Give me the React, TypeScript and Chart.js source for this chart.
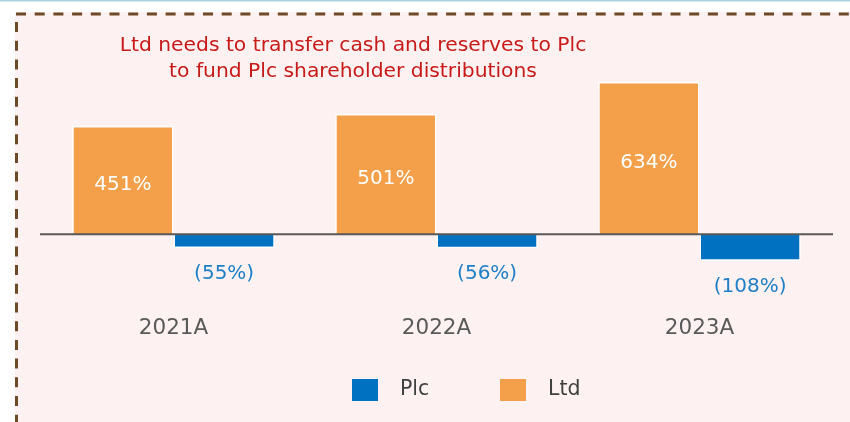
import React, { useEffect, useRef } from "react";
import { Chart, registerables } from "chart.js";

Chart.register(...registerables);

const categories = ["2021A", "2022A", "2023A"];
const ltdValues = [451, 501, 634];
const plcValues = [-55, -56, -108];
const titleLines = [
  "Ltd needs to transfer cash and reserves to Plc",
  "to fund Plc shareholder distributions",
];
const legendOrder = ["Plc", "Ltd"];

const FONT = "'DejaVu Sans', sans-serif";
const ORANGE = "#f4a04a";
const BLUE = "#0070c0";
const PINK = "#fef1f1";

const fmt = (v: number) => (v < 0 ? `(${Math.abs(v)}%)` : `${v}%`);

const framePlugin = {
  id: "frame",
  beforeDraw(chart: any) {
    const { ctx, width, height } = chart;
    ctx.save();
    ctx.fillStyle = "#ffffff";
    ctx.fillRect(0, 0, width, height);
    ctx.fillStyle = "#a7d3de";
    ctx.fillRect(0, 0, width, 1.5);
    ctx.fillStyle = PINK;
    ctx.fillRect(15, 12, width - 15, height - 12);
    ctx.strokeStyle = "#6e4a26";
    ctx.lineWidth = 3;
    ctx.setLineDash([10, 8.7]);
    ctx.beginPath();
    ctx.moveTo(16, 14);
    ctx.lineTo(width, 14);
    ctx.stroke();
    ctx.beginPath();
    ctx.moveTo(16.5, 22);
    ctx.lineTo(16.5, height);
    ctx.stroke();
    ctx.restore();
  },
};

const titlePlugin = {
  id: "customTitle",
  afterDraw(chart: any) {
    const { ctx } = chart;
    ctx.save();
    ctx.fillStyle = "#c91a1a";
    ctx.font = `20.3px ${FONT}`;
    ctx.textAlign = "center";
    ctx.textBaseline = "middle";
    ctx.fillText(titleLines[0], 353, 46);
    ctx.fillText(titleLines[1], 353, 72);
    ctx.restore();
  },
};

const labelPlugin = {
  id: "barLabels",
  afterDatasetsDraw(chart: any) {
    const { ctx, chartArea } = chart;
    const yScale = chart.scales.y;
    const zeroY = yScale.getPixelForValue(0) - 0.5;
    ctx.save();
    ctx.strokeStyle = "#595959";
    ctx.lineWidth = 2;
    ctx.beginPath();
    ctx.moveTo(chartArea.left - 2, zeroY);
    ctx.lineTo(chartArea.right + 2, zeroY);
    ctx.stroke();

    ctx.font = `20px ${FONT}`;
    ctx.textAlign = "center";
    ctx.textBaseline = "middle";
    chart.data.datasets.forEach((ds: any, di: number) => {
      const meta = chart.getDatasetMeta(di);
      meta.data.forEach((bar: any, i: number) => {
        const v = ds.data[i];
        if (v >= 0) {
          ctx.fillStyle = "#ffffff";
          ctx.fillText(fmt(v), bar.x, (bar.y + bar.base) / 2 + 4);
        } else {
          ctx.fillStyle = "#1f7fc6";
          ctx.fillText(fmt(v), bar.x, bar.y + 26);
        }
      });
    });
    ctx.restore();
  },
};

const legendPlugin = {
  id: "customLegend",
  afterDraw(chart: any) {
    const { ctx } = chart;
    ctx.save();
    ctx.font = `20.5px ${FONT}`;
    ctx.textBaseline = "middle";
    ctx.textAlign = "left";
    let x = 352;
    legendOrder.forEach((name) => {
      const ds = chart.data.datasets.find((d: any) => d.label === name);
      ctx.fillStyle = ds.backgroundColor;
      ctx.fillRect(x, 379, 26, 22);
      ctx.fillStyle = "#404040";
      ctx.fillText(name, x + 48, 390);
      x += 148;
    });
    ctx.restore();
  },
};

export default function App() {
  const ref = useRef<HTMLCanvasElement | null>(null);
  useEffect(() => {
    if (!ref.current) return;
    const chart = new Chart(ref.current, {
      type: "bar",
      data: {
        labels: categories,
        datasets: [
          {
            label: "Ltd",
            data: ltdValues,
            backgroundColor: ORANGE,
            borderColor: "#ffffff",
            borderWidth: 1.5,
            categoryPercentage: 0.77,
            barPercentage: 1,
          },
          {
            label: "Plc",
            data: plcValues,
            backgroundColor: BLUE,
            borderColor: "#ffffff",
            borderWidth: 1.5,
            categoryPercentage: 0.77,
            barPercentage: 1,
          },
        ],
      },
      options: {
        animation: false,
        responsive: false,
        layout: { padding: { left: 42, right: 19, top: 66, bottom: 68 } },
        plugins: {
          legend: { display: false },
          title: { display: false },
          tooltip: { enabled: false },
        },
        scales: {
          x: {
            grid: { display: false, drawTicks: false },
            border: { display: false },
            ticks: {
              color: "#595959",
              font: { family: FONT, size: 21.5 },
              padding: 13,
            },
          },
          y: {
            display: false,
            min: -280,
            max: 700,
          },
        },
      },
      plugins: [framePlugin, titlePlugin, labelPlugin, legendPlugin],
    });
    return () => chart.destroy();
  }, []);

  return (
    <div style={{ position: "fixed", left: 0, top: 0, width: 850, height: 422 }}>
      <canvas ref={ref} width={850} height={422} style={{ display: "block" }} />
    </div>
  );
}
